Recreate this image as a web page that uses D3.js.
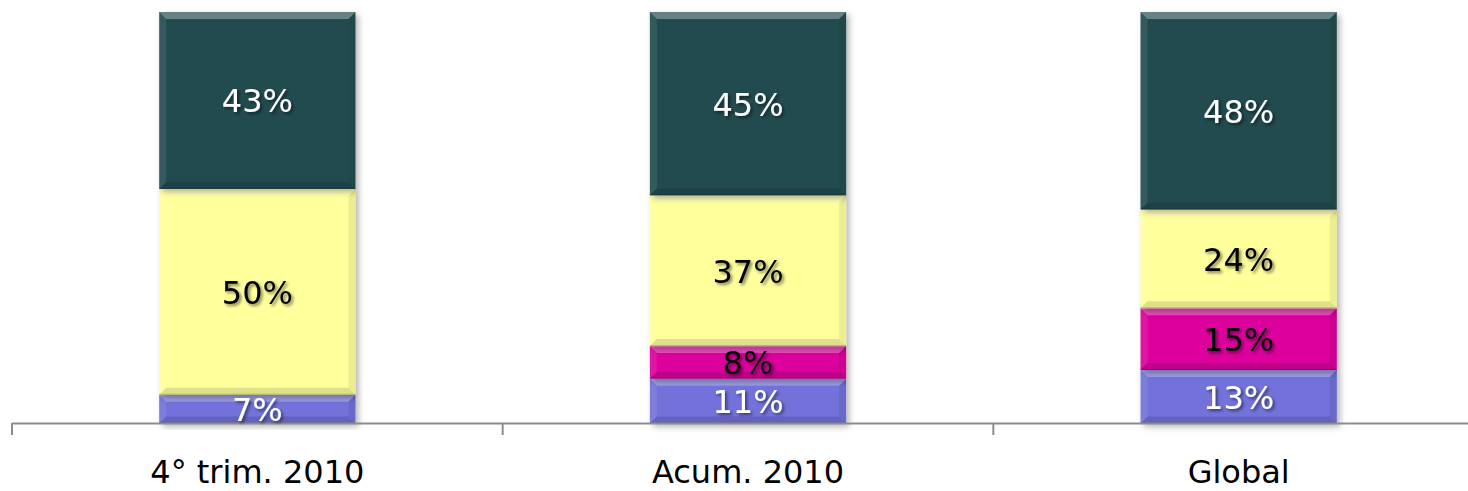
<!DOCTYPE html>
<html>
<head>
<meta charset="utf-8">
<script src="https://cdn.jsdelivr.net/npm/d3@7"></script>
<style>
  body { margin: 0; background: #fff; }
  svg { display: block; font-family: "DejaVu Sans", Verdana, sans-serif; }
</style>
</head>
<body>
<script>
// categories and series (bottom to top of each bar)
var categories = ["4° trim. 2010", "Acum. 2010", "Global"];
var seriesNames = ["s1", "s2", "s3", "s4"];
var s1 = [7, 11, 13];
var s2 = [0, 8, 15];
var s3 = [50, 37, 24];
var s4 = [43, 45, 48];
var colors = ["#7272da", "#dc009c", "#ffff9c", "#244c50"];
var labelColors = ["#fff", "#000", "#000", "#fff"];

var width = 1468, height = 491;

var svg = d3.select("body").append("svg")
    .attr("width", width)
    .attr("height", height);

var defs = svg.append("defs");
// shadow under the bars
defs.append("filter").attr("id", "barShadow")
    .attr("x", "-10%").attr("y", "-10%").attr("width", "130%").attr("height", "130%")
    .append("feDropShadow")
    .attr("dx", 3).attr("dy", 3).attr("stdDeviation", 3)
    .attr("flood-color", "#000").attr("flood-opacity", 0.3);
// shadow under the labels
defs.append("filter").attr("id", "txtShadow")
    .attr("x", "-20%").attr("y", "-20%").attr("width", "150%").attr("height", "150%")
    .append("feDropShadow")
    .attr("dx", 2).attr("dy", 2).attr("stdDeviation", 1.5)
    .attr("flood-color", "#000").attr("flood-opacity", 0.5);

// build the rows and stack them, normalised to 100%
var rows = categories.map((c, i) => {
    var r = { cat: c, s1: s1[i], s2: s2[i], s3: s3[i], s4: s4[i] };
    r.total = s1[i] + s2[i] + s3[i] + s4[i];
    return r;
});
var stack = d3.stack().keys(seriesNames)
    .value((d, k) => d[k] / d.total);
var layers = stack(rows);

var x = d3.scaleBand()
    .domain(categories)
    .range([12, 1484])
    .paddingInner(0.6)
    .paddingOuter(0.3);

var y = d3.scaleLinear()
    .domain([0, 1])
    .range([423.5, 12]);

var bev = 7;

var barG = svg.append("g");
layers.forEach((layer, li) => {
    layer.forEach((d, i) => {
        var v = d[1] - d[0];
        if (v <= 0) return;
        var x0 = x(d.data.cat), w = x.bandwidth();
        var y0 = y(d[1]), h = y(d[0]) - y(d[1]);
        var g = barG.append("g").attr("filter", "url(#barShadow)");
        g.append("rect")
            .attr("x", x0).attr("y", y0)
            .attr("width", w).attr("height", h)
            .attr("fill", colors[li]);
        var b = Math.min(bev, h / 2);
        var x1 = x0 + w, y1 = y0 + h;
        // bevel faces
        g.append("polygon")
            .attr("points", [[x0, y0], [x1, y0], [x1 - b, y0 + b], [x0 + b, y0 + b]].join(" "))
            .attr("fill", "#fff").attr("fill-opacity", 0.3);
        g.append("polygon")
            .attr("points", [[x0, y0], [x0 + b, y0 + b], [x0 + b, y1 - b], [x0, y1]].join(" "))
            .attr("fill", "#fff").attr("fill-opacity", 0.08);
        g.append("polygon")
            .attr("points", [[x1, y0], [x1, y1], [x1 - b, y1 - b], [x1 - b, y0 + b]].join(" "))
            .attr("fill", "#000").attr("fill-opacity", 0.07);
        g.append("polygon")
            .attr("points", [[x0, y1], [x0 + b, y1 - b], [x1 - b, y1 - b], [x1, y1]].join(" "))
            .attr("fill", "#000").attr("fill-opacity", 0.12);
        // thin dark edge at the bottom of each segment
        g.append("line")
            .attr("x1", x0).attr("x2", x1)
            .attr("y1", y1 - 0.5).attr("y2", y1 - 0.5)
            .attr("stroke", "#000").attr("stroke-opacity", 0.2);
    });
});

// axis line and ticks at band boundaries
var step = x.step();
var tickXs = categories.map(c => x(c) - step * x.paddingInner() / 2);
tickXs.push(tickXs[tickXs.length - 1] + step);
var axisG = svg.append("g");
axisG.append("line")
    .attr("x1", tickXs[0]).attr("x2", tickXs[tickXs.length - 1])
    .attr("y1", 423.5).attr("y2", 423.5)
    .attr("stroke", "#8c8c8c").attr("stroke-width", 2);
axisG.selectAll(".tick").data(tickXs).enter().append("line")
    .attr("x1", d => d).attr("x2", d => d)
    .attr("y1", 423).attr("y2", 435)
    .attr("stroke", "#8c8c8c").attr("stroke-width", 2);

// category labels
svg.append("g").selectAll("text")
    .data(categories).enter().append("text")
    .attr("x", d => x(d) + x.bandwidth() / 2)
    .attr("y", 483)
    .attr("text-anchor", "middle")
    .attr("font-size", "32px")
    .attr("fill", "#000")
    .text(d => d);

// data labels
var lblG = svg.append("g");
layers.forEach((layer, li) => {
    var vals = [s1, s2, s3, s4][li];
    layer.forEach((d, i) => {
        if (vals[i] <= 0) return;
        lblG.append("text")
            .attr("x", x(d.data.cat) + x.bandwidth() / 2)
            .attr("y", (y(d[0]) + y(d[1])) / 2 + 12)
            .attr("text-anchor", "middle")
            .attr("font-size", "32px")
            .attr("fill", labelColors[li])
            .attr("filter", "url(#txtShadow)")
            .text(vals[i] + "%");
    });
});
</script>
</body>
</html>
